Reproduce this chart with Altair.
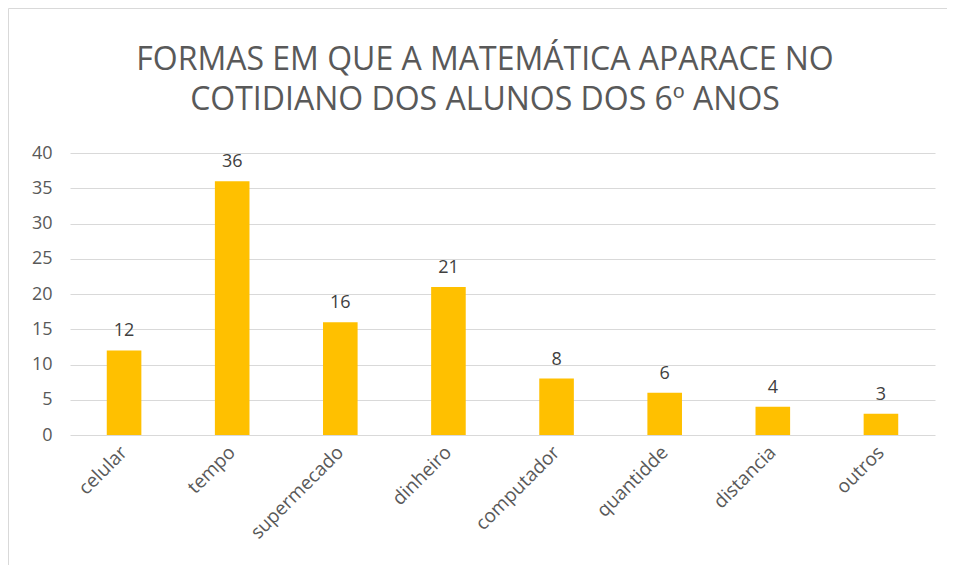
import altair as alt
import pandas as pd

categories = ["celular", "tempo", "supermecado", "dinheiro", "computador", "quantidde", "distancia", "outros"]
values = [12, 36, 16, 21, 8, 6, 4, 3]
title_lines = ["FORMAS EM QUE A MATEMÁTICA APARACE NO", "COTIDIANO DOS ALUNOS DOS 6º ANOS"]

df = pd.DataFrame({"cat": categories, "val": values})

FONT = "Open Sans"

x = alt.X("cat:N", sort=categories, title=None,
          scale=alt.Scale(paddingInner=0.68, paddingOuter=0.34),
          axis=alt.Axis(labelAngle=-45, labelFontSize=19, labelColor="#595959",
                        labelFont=FONT, ticks=False, domain=False, labelPadding=14,
                        labelBaseline="middle", labelAlign="right"))
y = alt.Y("val:Q", title=None,
          scale=alt.Scale(domain=[0, 40]),
          axis=alt.Axis(values=[0, 5, 10, 15, 20, 25, 30, 35, 40], labelFontSize=18,
                        labelColor="#595959", labelFont=FONT, ticks=False, domain=False,
                        gridColor="#d9d9d9", gridWidth=1, labelPadding=18,
                        labelOverlap=False))

base = alt.Chart(df)
bars = base.mark_bar(color="#FFC000").encode(x=x, y=y)
labels = base.mark_text(dy=-10, fontSize=18, font=FONT, color="#404040", baseline="bottom").encode(
    x=x, y=y, text="val:Q")

border = alt.Chart(pd.DataFrame({"a": [0]})).mark_rect(
    fill=None, stroke="#d9d9d9", strokeWidth=1).encode(
    x=alt.value(-61.5), x2=alt.value(900), y=alt.value(-144.5), y2=alt.value(420))

tdf = pd.DataFrame({"t": title_lines, "line": [0, 1]})
title1 = alt.Chart(tdf).transform_filter("datum.line == 0").mark_text(
    fontSize=32, font=FONT, color="#595959", align="center", baseline="middle").encode(
    x=alt.value(415), y=alt.value(-93), text="t:N")
title2 = alt.Chart(tdf).transform_filter("datum.line == 1").mark_text(
    fontSize=32, font=FONT, color="#595959", align="center", baseline="middle").encode(
    x=alt.value(415), y=alt.value(-53), text="t:N")

chart = alt.layer(border, bars, labels, title1, title2).properties(
    width=865, height=282,
    autosize=alt.AutoSizeParams(type="none"),
    padding={"left": 62, "top": 145, "right": 12, "bottom": 130},
    background="white",
).configure_view(stroke=None)

chart.save("out.html", embed_options={"renderer": "svg", "actions": False})
